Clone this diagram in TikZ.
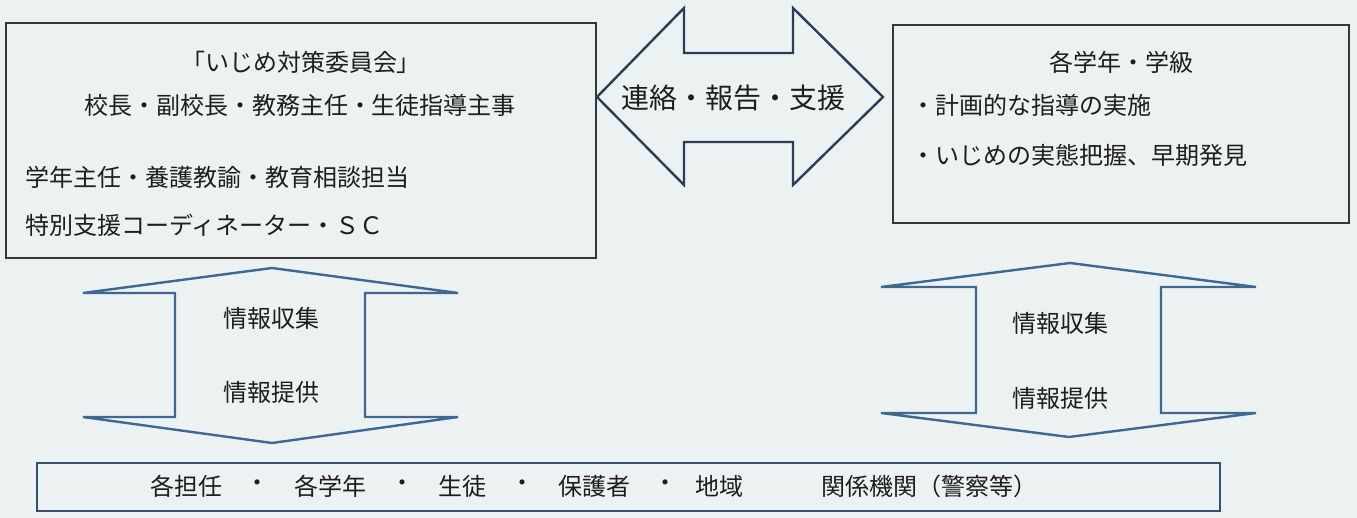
\documentclass[tikz,border=0pt]{standalone}
\usepackage{fontspec}
\newfontfamily\jpfont{Noto Sans CJK JP}
\usetikzlibrary{positioning}
\definecolor{paper}{RGB}{236,241,241}
\definecolor{ink}{RGB}{30,30,30}
\definecolor{frame}{RGB}{55,55,55}
\definecolor{steel}{RGB}{62,104,146}
\definecolor{navy}{RGB}{44,60,90}
\definecolor{slate}{RGB}{52,82,112}

\begin{document}
\begin{tikzpicture}[x=0.5pt,y=-0.5pt]
\tikzstyle{box}=[rectangle, draw=frame, line width=1pt, inner sep=0pt]
\tikzstyle{txt}=[font=\jpfont\fontsize{12}{14}\selectfont, text=ink, inner sep=0pt]
\tikzstyle{bigtxt}=[font=\jpfont\fontsize{14}{16}\selectfont, text=ink, inner sep=0pt]
\tikzstyle{flow}=[draw=steel, line width=1.2pt, line join=miter]
  \fill[paper] (0,0) rectangle (1357,518);
  \useasboundingbox (0,0) rectangle (1357,518);
  % boxes
  \node[box, minimum width=295pt, minimum height=117.5pt] (committee) at (301,140.5) {};
  \node[box, minimum width=228pt, minimum height=99pt] (grades) at (1121,124) {};
  \node[box, draw=slate, line width=1.4pt, minimum width=591.5pt, minimum height=24pt] (partners) at (628.5,487) {};
  % block arrows
  \draw[flow, draw=navy] (597,97) -- (684,8) -- (684,53) -- (793,53) -- (793,8) -- (883,97)
        -- (793,185) -- (793,142) -- (684,142) -- (684,185) -- cycle;
  \draw[flow] (272,268) -- (458,293) -- (365,293) -- (365,417) -- (458,417) -- (272,443)
        -- (83,417) -- (175,417) -- (175,293) -- (83,293) -- cycle;
  \draw[flow] (1070,263) -- (1256,287) -- (1161,287) -- (1161,413) -- (1256,413) -- (1069,437)
        -- (881,413) -- (976,413) -- (976,287) -- (881,287) -- cycle;
  % texts
  \node[txt] (title) at (301,62) {「いじめ対策委員会」};
  \node[txt] (heads) at (300,105) {校長・副校長・教務主任・生徒指導主事};
  \node[txt, anchor=west] (staff) at (25,177) {学年主任・養護教諭・教育相談担当};
  \node[txt, anchor=west] (support) at (25,225) {特別支援コーディネーター・ＳＣ};
  \node[bigtxt] (link) at (733,98) {連絡・報告・支援};
  \node[txt] (gradetitle) at (1121,62) {各学年・学級};
  \node[txt, anchor=west] (plan) at (911,105) {・計画的な指導の実施};
  \node[txt, anchor=west] (detect) at (911,155) {・いじめの実態把握、早期発見};
  \node[txt] (collectL) at (271,318) {情報収集};
  \node[txt] (provideL) at (271,392) {情報提供};
  \node[txt] (collectR) at (1060,323) {情報収集};
  \node[txt] (provideR) at (1060,398) {情報提供};
  \foreach \x/\t in {186/各担任, 257/・, 330/各学年, 402/・, 462/生徒, 522/・, 594/保護者, 665/・, 719/地域}
    \node[txt] (item\x) at (\x,486) {\t};
  \node[txt, anchor=west] (agencies) at (821,486) {関係機関（警察等）};
\end{tikzpicture}
\end{document}
